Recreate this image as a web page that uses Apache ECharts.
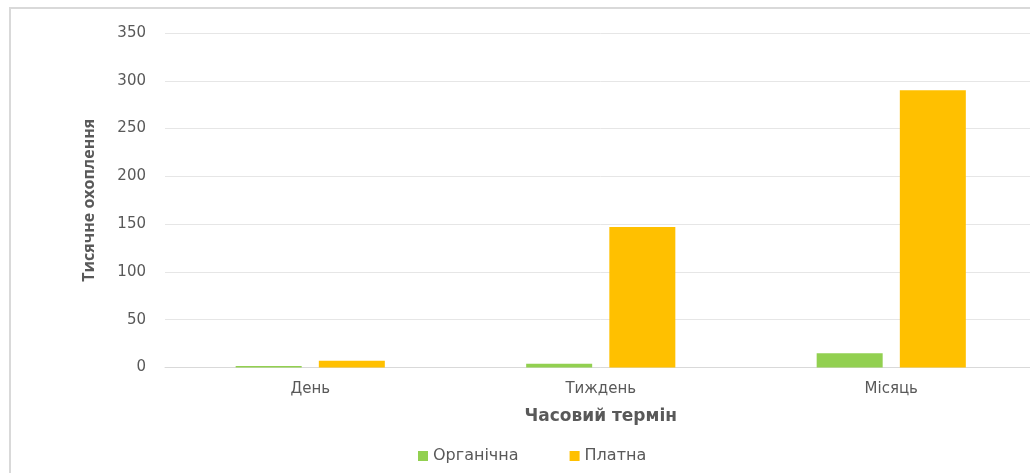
<!DOCTYPE html>
<html><head><meta charset="utf-8">
<script src="https://cdn.jsdelivr.net/npm/echarts@6/dist/echarts.min.js"></script>
<style>html,body{margin:0;padding:0;background:#fff;overflow:hidden}#c{width:1040px;height:473px}</style>
</head><body><div id="c"></div>
<script>
const categories = ['День', 'Тиждень', 'Місяць'];
const organic = [1.5, 4, 15];
const paid = [7, 147, 290];
const yTicks = [0, 50, 100, 150, 200, 250, 300, 350];
const seriesNames = ['Органічна', 'Платна'];
const xTitle = 'Часовий термін';
const yTitle = 'Тисячне охоплення';

const chart = echarts.init(document.getElementById('c'));
const font = '"DejaVu Sans", sans-serif';
chart.setOption({
  animation: false,
  textStyle: {fontFamily: font},
  graphic: [{type: 'rect', shape: {x: 10, y: 8, width: 1040, height: 480}, style: {fill: 'none', stroke: '#d9d9d9', lineWidth: 2}, z: 0}],
  grid: {left: 165, top: 33, right: 3.5, height: 334.5},
  legend: {top: 443, left: 413, itemWidth: 10, itemHeight: 10, itemGap: 51, icon: 'rect',
    textStyle: {color: '#595959', fontSize: 16, fontFamily: font}, data: seriesNames},
  xAxis: {type: 'category', data: categories,
    axisLine: {lineStyle: {color: '#d9d9d9'}}, axisTick: {show: false},
    axisLabel: {color: '#595959', fontSize: 15, margin: 14},
    name: xTitle, nameLocation: 'middle', nameGap: 41,
    nameTextStyle: {color: '#595959', fontSize: 17, fontWeight: 'bold', fontFamily: font}},
  yAxis: {type: 'value', min: 0, max: yTicks[yTicks.length - 1], interval: 50,
    axisLine: {show: false}, axisTick: {show: false},
    splitLine: {lineStyle: {color: '#e6e6e6'}},
    axisLabel: {color: '#595959', fontSize: 15, margin: 19},
    name: yTitle, nameLocation: 'middle', nameGap: 68,
    nameTextStyle: {color: '#595959', fontSize: 16, fontWeight: 'bold', fontFamily: '"Open Sans", sans-serif'}},
  series: [
    {name: seriesNames[0], type: 'bar', data: organic, barWidth: 66, barGap: '26%', itemStyle: {color: '#92d050'}},
    {name: seriesNames[1], type: 'bar', data: paid, barWidth: 66, itemStyle: {color: '#ffc000'}}
  ]
});
</script></body></html>
